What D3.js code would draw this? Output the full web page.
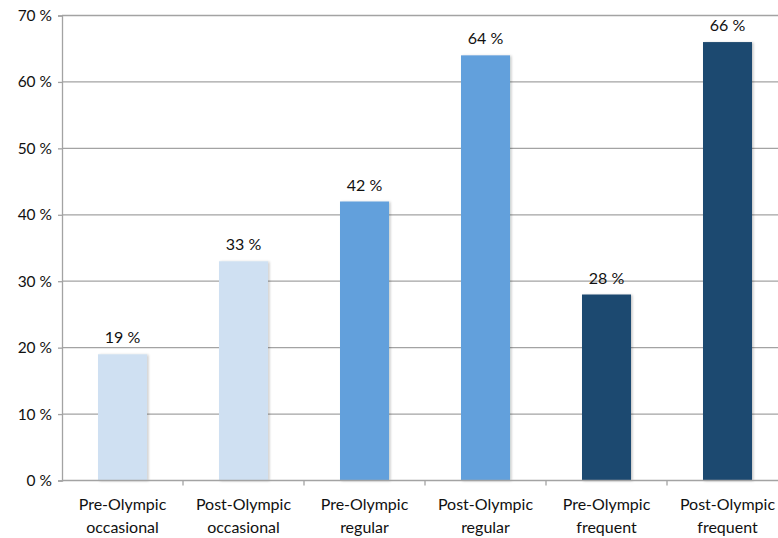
<!DOCTYPE html>
<html>
<head>
<meta charset="utf-8">
<script src="https://cdn.jsdelivr.net/npm/d3@7"></script>
<style>
  html, body { margin: 0; padding: 0; background: #fff; }
  svg text { font-family: Lato, "Open Sans", "Liberation Sans", sans-serif; fill: #111; }
</style>
</head>
<body>
<svg id="chart" width="778" height="538"></svg>
<script>
// Share of respondents by activity level, before and after the Olympics
const categories = [
  ["Pre-Olympic", "occasional"],
  ["Post-Olympic", "occasional"],
  ["Pre-Olympic", "regular"],
  ["Post-Olympic", "regular"],
  ["Pre-Olympic", "frequent"],
  ["Post-Olympic", "frequent"]
];
const values = [19, 33, 42, 64, 28, 66];
const colors = ["#cfe0f2", "#cfe0f2", "#62a0dc", "#62a0dc", "#1f4a70", "#1f4a70"];
const yTicks = [0, 10, 20, 30, 40, 50, 60, 70];

const svg = d3.select("#chart");
const margin = { left: 62, top: 15.5, right: 788, bottom: 480.5 };

const x = d3.scaleBand()
  .domain(d3.range(categories.length))
  .range([margin.left, margin.right])
  .paddingInner(0)
  .paddingOuter(0);

const y = d3.scaleLinear().domain([0, 70]).range([margin.bottom, margin.top]);

// soft shadow under the bars
const defs = svg.append("defs");
const f = defs.append("filter").attr("id", "shadow")
  .attr("x", "-20%").attr("y", "-20%").attr("width", "140%").attr("height", "140%");
f.append("feDropShadow").attr("dx", 1.5).attr("dy", 0.5)
  .attr("stdDeviation", 1).attr("flood-color", "#000").attr("flood-opacity", 0.22);

// horizontal gridlines
svg.append("g").selectAll("line").data(yTicks.filter(d => d > 0)).join("line")
  .attr("x1", margin.left).attr("x2", margin.right)
  .attr("y1", d => y(d)).attr("y2", d => y(d))
  .attr("stroke", "#a3a3a3").attr("stroke-width", 1.3);

// y axis
const yAxis = d3.axisLeft(y).tickValues(yTicks).tickSize(4).tickPadding(6)
  .tickFormat(d => d + " %");
const gy = svg.append("g").attr("transform", `translate(${margin.left},0)`).call(yAxis);
gy.select(".domain").attr("stroke", "#a3a3a3").attr("stroke-width", 1.3);
gy.selectAll(".tick line").attr("stroke", "#a3a3a3").attr("stroke-width", 1.3);
gy.selectAll(".tick text").attr("font-size", 15.5).style("fill", "#111")
  .style("font-family", "Lato, 'Open Sans', sans-serif");

// bars
const barW = x.bandwidth() * 0.405;
svg.append("g").selectAll("rect").data(values).join("rect")
  .attr("x", (d, i) => x(i) + (x.bandwidth() - barW) / 2)
  .attr("y", d => y(d))
  .attr("width", barW)
  .attr("height", d => y(0) - y(d))
  .attr("fill", (d, i) => colors[i])
  .attr("filter", "url(#shadow)");

// x axis baseline with category separators
const gx = svg.append("g");
gx.append("line")
  .attr("x1", margin.left).attr("x2", margin.right)
  .attr("y1", y(0)).attr("y2", y(0))
  .attr("stroke", "#a3a3a3").attr("stroke-width", 1.3);
gx.selectAll("line.sep").data(d3.range(1, categories.length + 1)).join("line")
  .attr("class", "sep")
  .attr("x1", i => x.step() * i + margin.left).attr("x2", i => x.step() * i + margin.left)
  .attr("y1", y(0)).attr("y2", y(0) + 5)
  .attr("stroke", "#a3a3a3").attr("stroke-width", 1.3);

// category labels (two lines)
const lbl = svg.append("g").selectAll("text").data(categories).join("text")
  .attr("text-anchor", "middle")
  .attr("font-size", 16)
  .attr("transform", (d, i) => `translate(${x(i) + x.bandwidth() / 2},0)`);
lbl.append("tspan").attr("x", 0).attr("y", 510).text(d => d[0]);
lbl.append("tspan").attr("x", 0).attr("y", 533).text(d => d[1]);

// value labels
svg.append("g").selectAll("text").data(values).join("text")
  .attr("x", (d, i) => x(i) + x.bandwidth() / 2)
  .attr("y", d => y(d) - 11)
  .attr("text-anchor", "middle")
  .attr("font-size", 16)
  .text(d => d + " %");
</script>
</body>
</html>
